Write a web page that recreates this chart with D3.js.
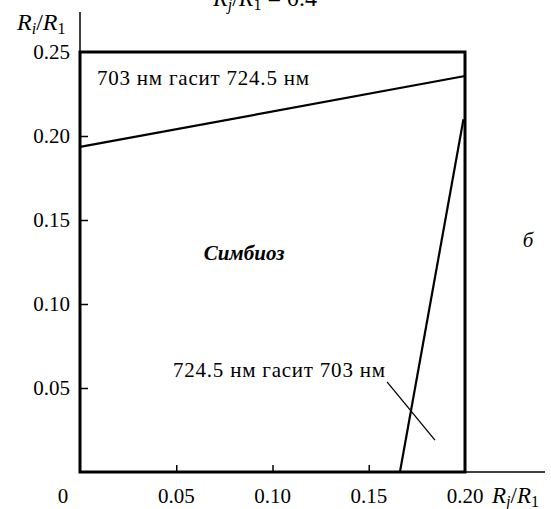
<!DOCTYPE html>
<html>
<head>
<meta charset="utf-8">
<script src="https://cdn.jsdelivr.net/npm/d3@7"></script>
</head>
<body style="margin:0; background:#fff">
<svg id="chart"></svg>
<script>
// data
const xTicks = [0.05, 0.10, 0.15, 0.20];
const yTicks = [0.05, 0.10, 0.15, 0.20, 0.25];
const upperLine = [[0, 0.1935], [0.2, 0.2357]];   // 703 нм гасит 724.5 нм
const lowerLine = [[0.1662, 0], [0.1992, 0.210]];  // 724.5 нм гасит 703 нм
const pointer = [[0.1595, 0.0536], [0.1844, 0.019]];
const labels = {
  top: "703 нм гасит 724.5 нм",
  bottom: "724.5 нм гасит 703 нм",
  middle: "Симбиоз",
  panel: "б"
};

const width = 551, height = 509;
const serif = '"Liberation Serif"';
const svg = d3.select("#chart").attr("width", width).attr("height", height);

const x = d3.scaleLinear().domain([0, 0.2]).range([80, 465]);
const y = d3.scaleLinear().domain([0, 0.25]).range([472, 52]);

const fmt = d3.format(".2f");

function txt(px, py, size) {
  return svg.append("text").attr("x", px).attr("y", py)
    .style("font-family", serif).style("font-size", size + "px").style("fill", "#000");
}

// thin axis extensions beyond the box
svg.append("line").attr("x1", x(0)).attr("x2", x(0)).attr("y1", 12).attr("y2", y(0.25))
  .attr("stroke", "#000").attr("stroke-width", 1.5);
svg.append("line").attr("x1", x(0.2)).attr("x2", 545).attr("y1", y(0)).attr("y2", y(0))
  .attr("stroke", "#000").attr("stroke-width", 1.5);

// ticks (inward)
const yAxis = d3.axisRight(y).tickValues(yTicks.filter(d => d < 0.25)).tickSize(8).tickFormat("");
svg.append("g").attr("transform", `translate(${x(0)},0)`).call(yAxis)
  .call(g => g.select(".domain").remove())
  .selectAll("line").attr("stroke-width", 1.5);
const xAxis = d3.axisTop(x).tickValues(xTicks.filter(d => d < 0.2)).tickSize(7).tickFormat("");
svg.append("g").attr("transform", `translate(0,${y(0)})`).call(xAxis)
  .call(g => g.select(".domain").remove())
  .selectAll("line").attr("stroke-width", 1.5);

// tick labels
yTicks.forEach(d => txt(70, y(d), 21).attr("dy", "0.35em").attr("text-anchor", "end").text(fmt(d)));
xTicks.forEach(d => txt(x(d), 503, 21).attr("text-anchor", "middle").text(fmt(d)));
txt(63, 503, 21).attr("text-anchor", "middle").text("0");

// box
svg.append("rect").attr("x", x(0)).attr("y", y(0.25))
  .attr("width", x(0.2) - x(0)).attr("height", y(0) - y(0.25))
  .attr("fill", "none").attr("stroke", "#000").attr("stroke-width", 3);

// boundary lines
const line = d3.line().x(d => x(d[0])).y(d => y(d[1]));
svg.append("path").attr("d", line(upperLine)).attr("fill", "none")
  .attr("stroke", "#000").attr("stroke-width", 2.2);
svg.append("path").attr("d", line(lowerLine)).attr("fill", "none")
  .attr("stroke", "#000").attr("stroke-width", 2.2);
svg.append("path").attr("d", line(pointer)).attr("fill", "none")
  .attr("stroke", "#000").attr("stroke-width", 1.3);

// annotations
txt(97, 85, 21).attr("textLength", 212).attr("lengthAdjust", "spacing").text(labels.top);
txt(173, 377, 21).attr("textLength", 212).attr("lengthAdjust", "spacing").text(labels.bottom);
txt(244, 260, 21).attr("text-anchor", "middle")
  .style("font-weight", "bold").style("font-style", "italic").text(labels.middle);
txt(528, 247, 21).attr("text-anchor", "middle").style("font-style", "italic").text(labels.panel);

// axis titles: R_i / R_1 and R_j / R_1
function ratio(sel, sub) {
  sel.append("tspan").style("font-style", "italic").text("R");
  sel.append("tspan").style("font-style", "italic").style("font-size", "16px").attr("dy", 4).text(sub);
  sel.append("tspan").attr("dy", -4).text("/");
  sel.append("tspan").style("font-style", "italic").text("R");
  sel.append("tspan").style("font-size", "16px").attr("dy", 4).text("1");
}
txt(17, 30, 24).call(ratio, "i");
txt(492, 503, 23).call(ratio, "j");

// top caption, cut off by the page edge as in the source
const cap = txt(213, 6, 24);
cap.call(ratio, "j");
cap.append("tspan").attr("dy", -4).text(" = 0.4");
</script>
</body>
</html>
